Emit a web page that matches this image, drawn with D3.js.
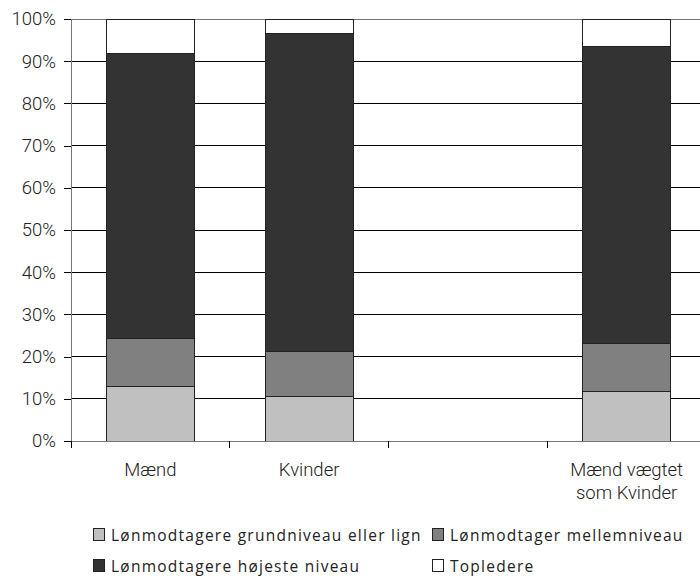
<!DOCTYPE html>
<html>
<head>
<meta charset="utf-8">
<script src="https://cdn.jsdelivr.net/npm/d3@7"></script>
<style>
  body { margin: 0; background: #fff; }
  svg { display: block; }
  text { font-family: Roboto, "Liberation Sans", sans-serif; font-weight: 300; fill: #222; }
  .legend text { font-family: "Open Sans", Roboto, sans-serif; font-weight: 400; letter-spacing: 1.25px; }
</style>
</head>
<body>
<div class="chart"></div>
<script>
// categories (the blank slot is an empty column in the original)
var categories = ["Mænd", "Kvinder", "", "Mænd vægtet|som Kvinder"];
var seriesNames = ["Lønmodtagere grundniveau eller lign", "Lønmodtager mellemniveau",
                   "Lønmodtagere højeste niveau", "Topledere"];
var seriesColors = ["#c0c0c0", "#808080", "#333333", "#ffffff"];
// percent shares per series, in category order (null = no bar)
var grundniveau = [13.0, 10.6, null, 11.8];
var mellemniveau = [11.2, 10.6, null, 11.3];
var hoejeste = [67.6, 75.4, null, 70.3];
var topledere = [8.2, 3.4, null, 6.6];
var yTicks = [0, 10, 20, 30, 40, 50, 60, 70, 80, 90, 100];

var series = [grundniveau, mellemniveau, hoejeste, topledere];

var margin = {top: 19, left: 71},
    width = 635, height = 422;
var fontSize = "18.5px";

var svg = d3.select(".chart").append("svg")
    .attr("width", 700).attr("height", 576);
var g = svg.append("g").attr("transform", "translate(" + margin.left + "," + margin.top + ")");

var x = d3.scaleBand().domain(d3.range(categories.length)).range([0, width]).paddingInner(0.445).paddingOuter(0.2225);
var xTick = d3.scaleLinear().domain([0, categories.length]).range([0, width]);
var y = d3.scaleLinear().domain([0, 100]).range([height, 0]);

// gridlines
g.selectAll(".grid").data(yTicks.slice(1)).enter().append("line")
    .attr("x1", 0).attr("x2", width)
    .attr("y1", function(d) { return y(d); }).attr("y2", function(d) { return y(d); })
    .attr("stroke", function(d) { return d == 100 ? "#777" : "#000"; })
    .attr("stroke-width", 1)
    .attr("shape-rendering", "crispEdges");

// stacked bars
var stacked = categories.map(function(c, i) {
    var acc = 0;
    return series.map(function(s, k) {
        var v = s[i];
        if (v == null) return null;
        var seg = {cat: i, k: k, y0: acc, y1: acc + v};
        acc += v;
        return seg;
    }).filter(function(d) { return d; });
});
stacked.forEach(function(segs) {
    g.selectAll(null).data(segs).enter().append("rect")
        .attr("x", function(d) { return x(d.cat); })
        .attr("width", x.bandwidth())
        .attr("y", function(d) { return y(d.y1); })
        .attr("height", function(d) { return y(d.y0) - y(d.y1); })
        .attr("fill", function(d) { return seriesColors[d.k]; })
        .attr("stroke", "#222")
        .attr("stroke-width", 1)
        .attr("shape-rendering", "crispEdges");
});

// y axis
var yAxis = d3.axisLeft(y).tickValues(yTicks).tickSize(7).tickPadding(8)
    .tickFormat(function(d) { return d + "%"; });
var ya = g.append("g").call(yAxis);
ya.attr("font-family", null).attr("font-size", null);
ya.select(".domain").attr("stroke", "#777").attr("shape-rendering", "crispEdges");
ya.selectAll(".tick line").attr("stroke", "#000").attr("shape-rendering", "crispEdges");
ya.selectAll("text").style("font-size", fontSize).attr("fill", "#222");

// x axis baseline and category ticks
g.append("line").attr("x1", 0).attr("x2", width).attr("y1", height).attr("y2", height)
    .attr("stroke", "#777").attr("shape-rendering", "crispEdges");
g.selectAll(".xt").data(d3.range(categories.length + 1)).enter().append("line")
    .attr("x1", function(d) { return xTick(d); }).attr("x2", function(d) { return xTick(d); })
    .attr("y1", height).attr("y2", height + 7)
    .attr("stroke", "#000").attr("shape-rendering", "crispEdges");

// category labels
categories.forEach(function(c, i) {
    if (!c) return;
    var t = g.append("text")
        .attr("x", x(i) + x.bandwidth() / 2)
        .attr("y", height + 35)
        .attr("text-anchor", "middle")
        .style("font-size", fontSize);
    c.split("|").forEach(function(line, j) {
        t.append("tspan").attr("x", x(i) + x.bandwidth() / 2).attr("dy", j ? 22.5 : 0).text(line);
    });
});

// legend
var legendPos = [[93, 541], [432, 541], [93, 572], [432, 572]];
var lg = svg.append("g").attr("class", "legend");
seriesNames.forEach(function(name, k) {
    var p = legendPos[k];
    lg.append("rect").attr("x", p[0] + 0.5).attr("y", p[1] - 12.5).attr("width", 11).attr("height", 12)
        .attr("fill", seriesColors[k]).attr("stroke", "#222").attr("stroke-width", 1);
    lg.append("text").attr("x", p[0] + 18).attr("y", p[1])
        .style("font-size", "15.5px").text(name);
});
</script>
</body>
</html>
